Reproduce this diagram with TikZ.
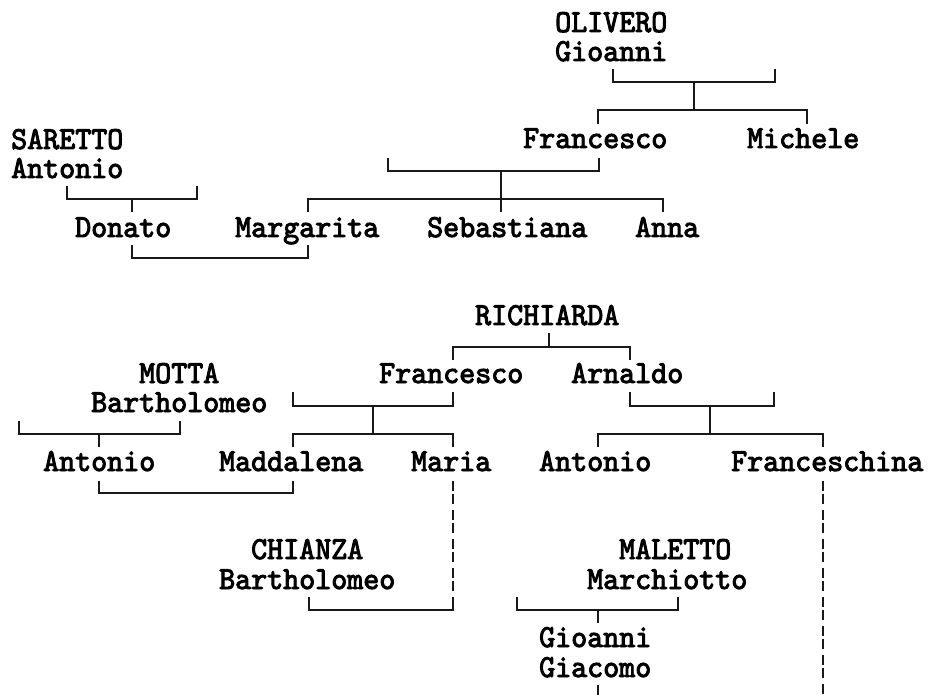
\documentclass[tikz,border=0pt]{standalone}
\usepackage{fontspec}
\newfontfamily\chartfont{lmmono10-regular.otf}[FakeBold=3, FakeStretch=0.953]
\usetikzlibrary{calc}

\begin{document}
\begin{tikzpicture}[x=1pt, y=-1pt,
  who/.style={anchor=base west, inner sep=0pt, font={\chartfont\fontsize{32pt}{33pt}\selectfont}},
  kin/.style={line width=2.3pt, draw=black!90},
  wed/.style={kin, dash pattern=on 9.5pt off 3pt on 10pt off 6.5pt}]
\useasboundingbox (0,0) rectangle (930,695);
% --- OLIVERO family (top) ---
\node[who] (olivero) at (555,32) {OLIVERO};
\node[who] (gioanniO) at (555,61) {Gioanni};
\node[who] (francescoO) at (523,148) {Francesco};
\node[who] (michele) at (747,148) {Michele};
\node[who] (saretto) at (11,149) {SARETTO};
\node[who] (antonioS) at (11,178) {Antonio};
\node[who] (donato) at (75,237) {Donato};
\node[who] (margarita) at (235,237) {Margarita};
\node[who] (sebastiana) at (427,237) {Sebastiana};
\node[who] (anna) at (635,237) {Anna};
% couple bar under Gioanni, stem down to the children bar
\coordinate (oL) at (613,69); \coordinate (oR) at (775,69);
\coordinate (oM) at (694,82); \coordinate (oC) at (694,110);
\draw[kin] (oL) -- ++(0,13) -| (oR);
\draw[kin] (oM) -- (oC);
\coordinate (fo) at (598,124); \coordinate (mi) at (807,124);
\draw[kin] (fo) -- ++(0,-14) -| (mi);
% Francesco and wife
\coordinate (fL) at (388,158); \coordinate (fR) at (599,158);
\coordinate (fM) at (501,171); \coordinate (fC) at (501,212);
\draw[kin] (fL) -- ++(0,13) -| (fR);
\draw[kin] (fM) -- (fC);
\coordinate (ma) at (308,212); \coordinate (an) at (663,212);
\draw[kin] (ma) -- ++(0,-13) -| (an);
% SARETTO Antonio
\coordinate (sL) at (67,186); \coordinate (sR) at (197,186);
\coordinate (sM) at (132,199); \coordinate (sC) at (132,212);
\draw[kin] (sL) -- ++(0,13) -| (sR);
\draw[kin] (sM) -- (sC);
% Donato x Margarita
\coordinate (dm1) at (132,245); \coordinate (dm2) at (308,245);
\draw[kin] (dm1) -- ++(0,13) -| (dm2);
% --- RICHIARDA family (bottom) ---
\node[who] (richiarda) at (475,325) {RICHIARDA};
\node[who] (francescoR) at (379,383) {Francesco};
\node[who] (arnaldo) at (571,383) {Arnaldo};
\node[who] (motta) at (139,383) {MOTTA};
\node[who] (bartholomeoM) at (91,412) {Bartholomeo};
\node[who] (antonioM) at (43,471) {Antonio};
\node[who] (maddalena) at (219,471) {Maddalena};
\node[who] (maria) at (411,471) {Maria};
\node[who] (antonioR) at (539,471) {Antonio};
\node[who] (franceschina) at (731,471) {Franceschina};
\node[who] (chianza) at (251,559) {CHIANZA};
\node[who] (bartholomeoC) at (219,589) {Bartholomeo};
\node[who] (maletto) at (619,559) {MALETTO};
\node[who] (marchiotto) at (587,589) {Marchiotto};
\node[who] (gioanniG) at (539,647) {Gioanni};
\node[who] (giacomo) at (539,677) {Giacomo};
% RICHIARDA to her sons
\coordinate (rT) at (549,333); \coordinate (rM) at (549,347);
\coordinate (rF) at (453,360); \coordinate (rA) at (630,360);
\draw[kin] (rT) -- (rM);
\draw[kin] (rF) -- ++(0,-13) -| (rA);
% Francesco and wife
\coordinate (frL) at (293,392); \coordinate (frR) at (453,392);
\coordinate (frM) at (373,406); \coordinate (frC) at (373,434);
\draw[kin] (frL) -- ++(0,14) -| (frR);
\draw[kin] (frM) -- (frC);
\coordinate (md) at (293,447); \coordinate (mr) at (453,447);
\draw[kin] (md) -- ++(0,-13) -| (mr);
% Arnaldo and wife
\coordinate (arL) at (630,392); \coordinate (arR) at (774,392);
\coordinate (arM) at (710,406); \coordinate (arC) at (710,434);
\draw[kin] (arL) -- ++(0,14) -| (arR);
\draw[kin] (arM) -- (arC);
\coordinate (at) at (598,447); \coordinate (fc) at (823,447);
\draw[kin] (at) -- ++(0,-13) -| (fc);
% MOTTA Bartholomeo
\coordinate (mL) at (19,421); \coordinate (mR) at (180,421);
\coordinate (mM) at (99,434); \coordinate (mC) at (99,447);
\draw[kin] (mL) -- ++(0,13) -| (mR);
\draw[kin] (mM) -- (mC);
% Antonio x Maddalena
\coordinate (am1) at (99,481); \coordinate (am2) at (293,481);
\draw[kin] (am1) -- ++(0,12) -| (am2);
% Maria x CHIANZA Bartholomeo
\coordinate (mrD) at (453,481); \coordinate (mrE) at (453,597);
\coordinate (chL) at (309,597);
\draw[wed] (mrD) -- (mrE);
\draw[kin] (chL) -- ++(0,13) -| (mrE);
% Franceschina, running off the page
\coordinate (fcD) at (823,481); \coordinate (fcE) at (823,695);
\draw[wed] (fcD) -- (fcE);
% MALETTO Marchiotto
\coordinate (mlL) at (517,597); \coordinate (mlR) at (678,597);
\coordinate (mlM) at (598,610); \coordinate (mlC) at (598,623);
\draw[kin] (mlL) -- ++(0,13) -| (mlR);
\draw[kin] (mlM) -- (mlC);
\coordinate (gg) at (598,685); \coordinate (ggE) at (598,695);
\draw[kin] (gg) -- (ggE);
\end{tikzpicture}
\end{document}
